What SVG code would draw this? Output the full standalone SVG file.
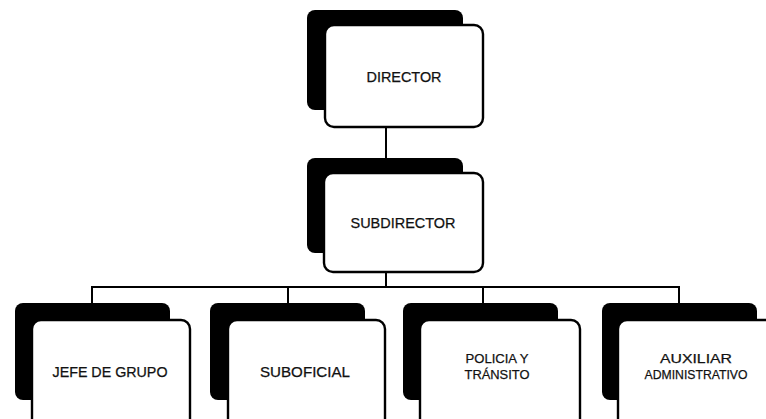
<svg xmlns="http://www.w3.org/2000/svg" width="766" height="419" viewBox="0 0 766 419">
<style>
.sh{fill:#000}
.bx{fill:#fff;stroke:#000;stroke-width:2.4}
.t{font-family:"Liberation Sans",Arial,sans-serif;font-size:14.5px;fill:#111;stroke:#111;stroke-width:0.25;text-anchor:middle}
.s{font-size:13.5px}
.c{fill:none;stroke:#000;stroke-width:2}
</style>
<rect width="766" height="419" fill="#fff"/>
<g id="connectors">
<line class="c" x1="386" y1="127" x2="386" y2="158"/>
<line class="c" x1="386" y1="272" x2="386" y2="287"/>
<line class="c" x1="91" y1="287" x2="680" y2="287"/>
<line class="c" x1="92" y1="287" x2="92" y2="303"/>
<line class="c" x1="288" y1="287" x2="288" y2="303"/>
<line class="c" x1="483" y1="287" x2="483" y2="303"/>
<line class="c" x1="679" y1="287" x2="679" y2="303"/>
</g>
<g id="director">
<rect class="sh" x="307" y="10" width="156" height="100" rx="8"/>
<rect class="bx" x="325" y="25" width="158" height="102" rx="9"/>
<text class="t" x="404" y="82" textLength="75" lengthAdjust="spacingAndGlyphs">DIRECTOR</text>
</g>
<g id="subdirector">
<rect class="sh" x="307" y="158" width="156" height="95" rx="8"/>
<rect class="bx" x="324" y="173" width="159" height="99" rx="9"/>
<text class="t" x="403" y="228" textLength="105" lengthAdjust="spacingAndGlyphs">SUBDIRECTOR</text>
</g>
<g id="jefe">
<rect class="sh" x="15" y="303" width="155" height="97" rx="8"/>
<rect class="bx" x="32" y="320" width="158" height="110" rx="9"/>
<text class="t" x="110" y="377" textLength="115" lengthAdjust="spacingAndGlyphs">JEFE DE GRUPO</text>
</g>
<g id="suboficial">
<rect class="sh" x="210" y="303" width="155" height="97" rx="8"/>
<rect class="bx" x="228" y="320" width="157" height="110" rx="9"/>
<text class="t" x="305" y="377" textLength="90" lengthAdjust="spacingAndGlyphs">SUBOFICIAL</text>
</g>
<g id="policia">
<rect class="sh" x="403" y="303" width="155" height="97" rx="8"/>
<rect class="bx" x="420" y="320" width="160" height="110" rx="9"/>
<text class="t s" x="497" y="363" textLength="63" lengthAdjust="spacingAndGlyphs">POLICIA Y</text>
<text class="t s" x="497" y="379" textLength="65" lengthAdjust="spacingAndGlyphs">TRÁNSITO</text>
</g>
<g id="auxiliar">
<rect class="sh" x="602" y="303" width="155" height="97" rx="8"/>
<rect class="bx" x="618" y="320" width="160" height="110" rx="9"/>
<text class="t s" x="696" y="363" textLength="72" lengthAdjust="spacingAndGlyphs">AUXILIAR</text>
<text class="t s" x="696" y="379" textLength="103" lengthAdjust="spacingAndGlyphs">ADMINISTRATIVO</text>
</g>
</svg>
